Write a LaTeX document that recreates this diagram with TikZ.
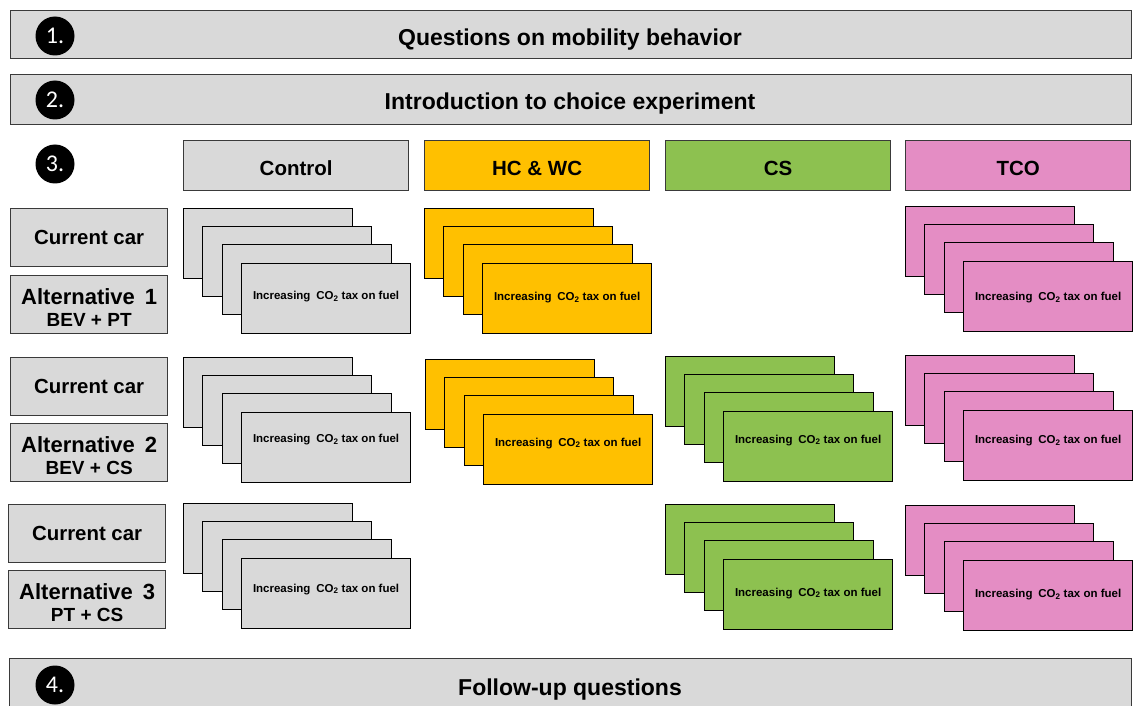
\documentclass[tikz,border=0pt]{standalone}
\usepackage{fontspec}
\setmainfont{Liberation Sans}
\newfontfamily\numfont{Carlito}
\usetikzlibrary{calc}
\definecolor{boxgray}{HTML}{D9D9D9}
\definecolor{hcorange}{HTML}{FFC000}
\definecolor{csgreen}{HTML}{8DC150}
\definecolor{tcopink}{HTML}{E48DC4}
\definecolor{edge}{HTML}{3A3A3A}
\tikzset{
  bar/.style={draw=edge, line width=1.3pt, fill=boxgray, rectangle, anchor=north west, inner sep=0pt},
  hdr/.style={draw=edge, line width=1.3pt, rectangle, anchor=north west, minimum width=225pt, minimum height=50pt, inner sep=0pt},
  hdrtext/.style={font=\fontsize{20.5}{22}\selectfont\bfseries, inner sep=0pt},
  lbl/.style={draw=edge, line width=1.3pt, fill=boxgray, rectangle, anchor=north west, minimum width=157pt, minimum height=58pt, inner sep=0pt},
  curtext/.style={font=\fontsize{20.4}{22}\selectfont\bfseries, inner sep=0pt},
  alttext/.style={font=\fontsize{22}{24}\selectfont\bfseries, inner sep=0pt, align=center},
  card/.style={draw=black, line width=1.2pt, rectangle, anchor=north west, minimum width=169pt, minimum height=70pt, inner sep=0pt},
  cardlbl/.style={font=\fontsize{11.5}{13}\selectfont\bfseries, inner sep=0pt},
  num/.style={circle, fill=black, minimum size=39pt, inner sep=0pt, text=white, font=\numfont\fontsize{24}{26}\selectfont},
  bartext/.style={font=\fontsize{23}{25}\selectfont\bfseries, inner sep=0pt}
}
\newcommand{\cardtext}{Increasing\hspace{0.5em}CO\textsubscript{2} tax on fuel}
\newcommand{\altsub}[1]{\\[-2pt]{\fontsize{19}{20}\selectfont #1}}
% name, x, y, fill, text shift
\newcommand{\cardstack}[5]{%
  \node[card,fill=#4] (#1-1) at (#2,#3) {};
  \node[card,fill=#4] (#1-2) at ($(#2,#3)+(19,17.5)$) {};
  \node[card,fill=#4] (#1-3) at ($(#2,#3)+(39,36)$) {};
  \node[card,fill=#4] (#1-4) at ($(#2,#3)+(58,55)$) {};
  \node[cardlbl] (#1-t) at ($(#1-4.center)+(0,#5)$) {\cardtext};
}
\begin{document}
\begin{tikzpicture}[x=1pt,y=-1pt]
\clip (0,0) rectangle (1133,706);
\fill[white] (0,0) rectangle (1133,706);
% bars
\node[bar, minimum width=1121pt, minimum height=48pt] (bar1) at (10,10) {};
\node[bartext] (t1) at (570,40) {Questions on mobility behavior};
\node[num] (n1) at (55,36) {1.};
\node[bar, minimum width=1121pt, minimum height=50pt] (bar2) at (10,74) {};
\node[bartext] (t2) at (570,104) {Introduction to choice experiment};
\node[num] (n2) at (55,100) {2.};
\node[num] (n3) at (55,164) {3.};
\node[bar, minimum width=1122pt, minimum height=70pt] (bar4) at (9,658) {};
\node[bartext] (t4) at (570,690) {Follow-up questions};
\node[num] (n4) at (55,685) {4.};
% headers
\node[hdr, fill=boxgray] (hctrl) at (183,140) {};
\node[hdr, fill=hcorange] (hhc) at (424,140) {};
\node[hdr, fill=csgreen] (hcs) at (665,140) {};
\node[hdr, fill=tcopink] (htco) at (905,140) {};
\node[hdrtext] (hctrl-t) at ($(hctrl.center)+(0,3)$) {Control};
\node[hdrtext] (hhc-t) at ($(hhc.center)+(0,3)$) {HC \& WC};
\node[hdrtext] (hcs-t) at ($(hcs.center)+(0,3)$) {CS};
\node[hdrtext] (htco-t) at ($(htco.center)+(0,3)$) {TCO};
% left labels
\node[lbl] (cur1) at (10,208) {};
\node[lbl] (alt1) at (10,275) {};
\node[lbl] (cur2) at (10,357) {};
\node[lbl] (alt2) at (10,423) {};
\node[lbl] (cur3) at (8,504) {};
\node[lbl] (alt3) at (8,570) {};
\node[curtext] (cur1-t) at (cur1.center) {Current car};
\node[curtext] (cur2-t) at (cur2.center) {Current car};
\node[curtext] (cur3-t) at (cur3.center) {Current car};
\node[alttext] (alt1-t) at ($(alt1.center)+(0,3)$) {Alternative\hspace{0.45em}1\altsub{BEV + PT}};
\node[alttext] (alt2-t) at ($(alt2.center)+(0,3)$) {Alternative\hspace{0.45em}2\altsub{BEV + CS}};
\node[alttext] (alt3-t) at ($(alt3.center)+(0,3)$) {Alternative\hspace{0.45em}3\altsub{PT + CS}};
% card stacks
\cardstack{r1c}{183}{208}{boxgray}{-2}
\cardstack{r1h}{424}{208}{hcorange}{-1}
\cardstack{r1t}{905}{206}{tcopink}{1}
\cardstack{r2c}{183}{357}{boxgray}{-8}
\cardstack{r2h}{425}{359}{hcorange}{-6.5}
\cardstack{r2s}{665}{356}{csgreen}{-6.5}
\cardstack{r2t}{905}{355}{tcopink}{-5}
\cardstack{r3c}{183}{503}{boxgray}{-4.5}
\cardstack{r3s}{665}{504}{csgreen}{-1.5}
\cardstack{r3t}{905}{505}{tcopink}{-1}
\end{tikzpicture}
\end{document}
